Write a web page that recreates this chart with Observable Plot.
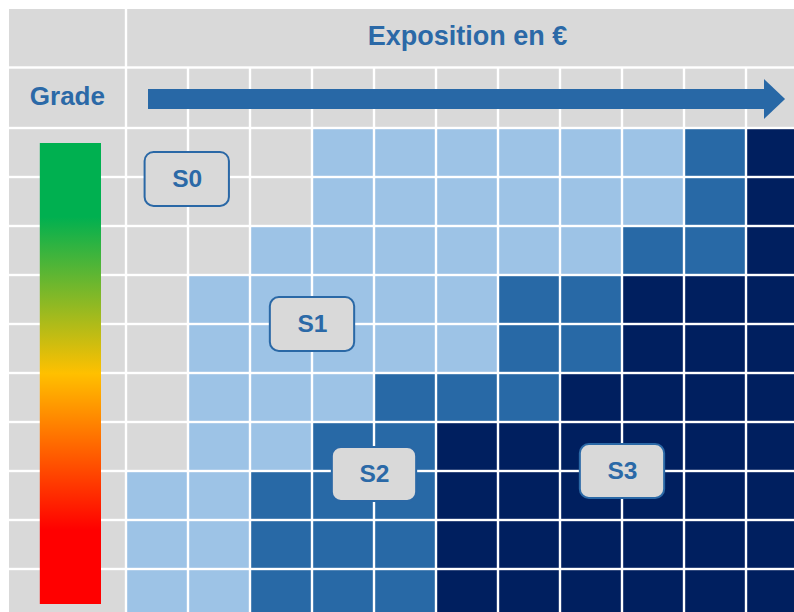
<!DOCTYPE html>
<html>
<head>
<meta charset="utf-8">
<script src="https://cdn.jsdelivr.net/npm/d3@7"></script>
<script src="https://cdn.jsdelivr.net/npm/@observablehq/plot@0.6"></script>
<style>
html, body { margin: 0; padding: 0; background: #fff; overflow: hidden; }
#chart svg { display: block; overflow: hidden; }
</style>
</head>
<body>
<div id="chart"></div>
<script>
// ---- data ----
const exposureColumns = [0, 1, 2, 3, 4, 5, 6, 7, 8, 9, 10];
const gradeRows = [0, 1, 2, 3, 4, 5, 6, 7, 8, 9];
const stageNames = ["S0", "S1", "S2", "S3"];
const stageColors = ["#d9d9d9", "#9dc3e6", "#2869a6", "#001f5f"];
// stage index per grade row (top→bottom) and exposure column (left→right)
const stageMatrix = [
  [0, 0, 0, 1, 1, 1, 1, 1, 1, 2, 3],
  [0, 0, 0, 1, 1, 1, 1, 1, 1, 2, 3],
  [0, 0, 1, 1, 1, 1, 1, 1, 2, 2, 3],
  [0, 1, 1, 1, 1, 1, 2, 2, 3, 3, 3],
  [0, 1, 1, 1, 1, 1, 2, 2, 3, 3, 3],
  [0, 1, 1, 1, 2, 2, 2, 3, 3, 3, 3],
  [0, 1, 1, 2, 2, 3, 3, 3, 3, 3, 3],
  [1, 1, 2, 2, 2, 3, 3, 3, 3, 3, 3],
  [1, 1, 2, 2, 2, 3, 3, 3, 3, 3, 3],
  [1, 1, 2, 2, 2, 3, 3, 3, 3, 3, 3]
];
// label anchors in grid units (column, row)
const labelCol = [0.98, 3, 4, 8];
const labelRow = [1.04, 4, 7.06, 7];
const headerTitle = "Exposition en €";
const rowTitle = "Grade";

// ---- derived tables ----
const cells = [];
gradeRows.forEach(r => exposureColumns.forEach(c => cells.push({col: c, row: r, stage: stageNames[stageMatrix[r][c]]})));
const headerCols = exposureColumns.map(c => ({col: c}));
const leftCells = [-2, -1, ...gradeRows].map(r => ({row: r}));
const labels = stageNames.map((s, i) => ({label: s, cx: labelCol[i], cy: labelRow[i]}));

const gray = "#d9d9d9";
const blueText = "#2b69a7";
const arrowBlue = "#2868a6";

const nCols = exposureColumns.length;
const nRows = gradeRows.length;

const chart = Plot.plot({
  width: 794,
  height: 612,
  margin: 0,
  x: {type: "linear", domain: [-1, 0, nCols], range: [7.8, 126, 126 + 62 * nCols], axis: null},
  y: {type: "linear", domain: [-2, -1, 0, nRows], range: [7.8, 67.5, 128, 128 + 49 * nRows], axis: null},
  color: {type: "ordinal", domain: stageNames, range: stageColors},
  style: {background: "#fff", fontFamily: "'Liberation Sans', Arial, sans-serif"},
  marks: [
    // left column cells (header rows + grade rows)
    Plot.rect(leftCells, {x1: -1, x2: 0, y1: "row", y2: d => d.row + 1, inset: 1.2, fill: gray}),
    // top header spanning all exposure columns
    Plot.rect([0], {x1: 0, x2: nCols, y1: -2, y2: -1, inset: 1.2, fill: gray}),
    // second header row: one cell per column
    Plot.rect(headerCols, {x1: "col", x2: d => d.col + 1, y1: -1, y2: 0, inset: 1.2, fill: gray}),
    // matrix cells
    Plot.rect(cells, {x1: "col", x2: d => d.col + 1, y1: "row", y2: d => d.row + 1, inset: 1.2, fill: "stage"}),
    // grade gradient bar
    Plot.rect([0], {x1: -1, x2: 0, y1: 0, y2: nRows, insetLeft: 32, insetRight: 25, insetTop: 15, insetBottom: 14, fill: "url(#gradeGrad)"}),
    // exposure arrow: shaft + head
    Plot.rect([0], {x1: 0.355, x2: 10.3, y1: -1, y2: 0, insetTop: 21.5, insetBottom: 19, fill: arrowBlue}),
    Plot.areaY([{x: 10.29, y1: -0.81, y2: -0.149}, {x: 10.63, y1: -0.479, y2: -0.479}], {x: "x", y1: "y1", y2: "y2", fill: arrowBlue}),
    // header texts
    Plot.text([headerTitle], {x: nCols / 2, y: -1.5, text: d => d, dy: -2, fontSize: 27, fontWeight: "bold", fill: blueText}),
    Plot.text([rowTitle], {x: -0.5, y: -0.5, text: d => d, dy: -2, fontSize: 26, fontWeight: "bold", fill: blueText}),
    // stage label boxes
    Plot.rect(labels, {x1: d => d.cx - 0.68, x2: d => d.cx + 0.68, y1: d => d.cy - 0.55, y2: d => d.cy + 0.55, rx: 9, fill: gray, stroke: "#2a68a6", strokeWidth: 2}),
    Plot.text(labels, {x: "cx", y: "cy", text: "label", fontSize: 24.5, fontWeight: "bold", fill: blueText})
  ]
});

const svgEl = chart.tagName.toLowerCase() === "svg" ? chart : chart.querySelector("svg");
const defs = d3.select(svgEl).insert("defs", ":first-child");
const grad = defs.append("linearGradient").attr("id", "gradeGrad").attr("x1", 0).attr("y1", 0).attr("x2", 0).attr("y2", 1);
[[0, "#00b050"], [0.16, "#00b050"], [0.5, "#ffc000"], [0.84, "#ff0000"], [1, "#ff0000"]].forEach(([o, c]) =>
  grad.append("stop").attr("offset", o).attr("stop-color", c));

document.getElementById("chart").appendChild(chart);
</script>
</body>
</html>
